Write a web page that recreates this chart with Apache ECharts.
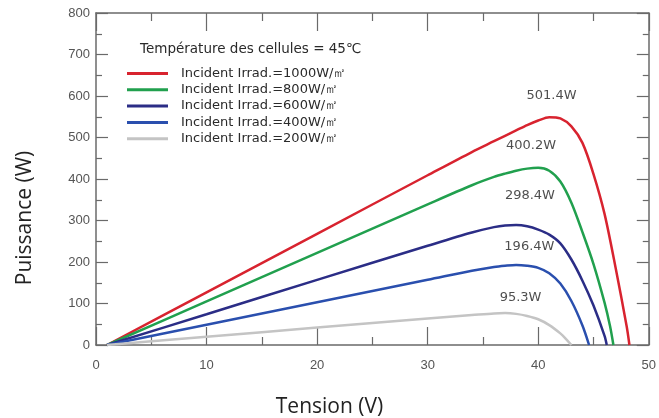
<!DOCTYPE html>
<html>
<head>
<meta charset="utf-8">
<script src="https://cdn.jsdelivr.net/npm/echarts@6/dist/echarts.min.js"></script>
<style>html,body{margin:0;padding:0;background:#fff;}#c{width:659px;height:418px;}</style>
</head>
<body>
<div id="c"></div>
<script>
// ---- data ----
const seriesNames = [
  'Incident Irrad.=1000W/㎡',
  'Incident Irrad.=800W/㎡',
  'Incident Irrad.=600W/㎡',
  'Incident Irrad.=400W/㎡',
  'Incident Irrad.=200W/㎡'
];
const irr1000 = [[1,0],[10,127],[20,268],[30,409],[34,465],[36,491],[38,517],[39,530],[40,541],[41,549],[42,546],[43,527],[44,487],[45,412],[46,316],[47,186],[48,45],[48.25,0]];
const irr800 = [[1,0],[10,105],[20,222],[30,339],[34,385],[36,405],[37,413],[38,420],[39,425],[40,427],[41,420],[42,394],[43,343],[44,272],[45,195],[46,102],[46.5,45],[46.8,0]];
const irr600 = [[1,0],[10,74],[20,157],[30,239],[34,271],[36,284],[37,288],[38,289],[39,286],[40,278],[41,266],[42,245],[43,206],[44,155],[45,95],[46,22],[46.2,0]];
const irr400 = [[1,0],[10,49],[20,103],[30,157],[34,179],[36,188],[37,191],[38,193],[39,191],[40,186],[41,173],[42,148],[43,106],[44,47],[44.6,0]];
const irr200 = [[1,0],[10,20],[20,42],[30,64],[34,72],[36,76],[37,77],[38,75],[39,70],[40,62],[41,48],[42,28],[42.5,15],[43,0]];
const peakLabels = ['501.4W','400.2W','298.4W','196.4W','95.3W'];
const peakLabelAnchors = [[41.2,600],[39.35,480],[39.25,359],[39.2,236],[38.4,113]];
const xTicks = [0,10,20,30,40,50];
const yTicks = [0,100,200,300,400,500,600,700,800];
const legendTitle = 'Température des cellules = 45℃';
const xTitle = 'Tension (V)';
const yTitle = 'Puissance (W)';
const colors = ['#d8232f','#21a04e','#2b2d86','#2a4fae','#c4c4c4'];
const allData = [irr1000, irr800, irr600, irr400, irr200];

const axisColor = '#6a6a6a';
const tickFont = {color:'#555', fontSize:13, fontFamily:'Liberation Sans Narrow, Liberation Sans, Arial, sans-serif'};
const textFont = 'Open Sans, Noto Sans, sans-serif';
const legFont = 'DejaVu Sans, Verdana, sans-serif';

function xAx(pos, showLabel){
  return {
    type:'value', position:pos, min:xTicks[0], max:xTicks[xTicks.length-1], interval:10,
    axisLine:{show:true, onZero:false, lineStyle:{color:axisColor, width:1.5}},
    axisTick:{show:true, inside:true, length:18, lineStyle:{color:axisColor, width:1.2}},
    minorTick:{show:true, splitNumber:2, length:8, lineStyle:{color:axisColor, width:1.2}},
    axisLabel:Object.assign({show:showLabel, margin:14}, tickFont),
    splitLine:{show:false}
  };
}
function yAx(pos, showLabel){
  return {
    type:'value', position:pos, min:yTicks[0], max:yTicks[yTicks.length-1], interval:100,
    axisLine:{show:true, onZero:false, lineStyle:{color:axisColor, width:1.5}},
    axisTick:{show:true, inside:true, length:12, lineStyle:{color:axisColor, width:1.2}},
    minorTick:{show:true, splitNumber:2, length:6, lineStyle:{color:axisColor, width:1.2}},
    axisLabel:Object.assign({show:showLabel, margin:6}, tickFont),
    splitLine:{show:false}
  };
}

const series = allData.map((d,i)=>({
  name: seriesNames[i], type:'line', data:d, smooth:0.3, showSymbol:false, symbol:'none',
  xAxisIndex:0, yAxisIndex:0,
  lineStyle:{color:colors[i], width:2.5}, itemStyle:{color:colors[i]},
  silent:true, animation:false, z:3
}));
series.push({
  type:'scatter', xAxisIndex:0, yAxisIndex:0, symbolSize:0, silent:true, animation:false,
  data: peakLabelAnchors.map((p,i)=>({value:p, label:{show:true, formatter:peakLabels[i]}})),
  label:{show:true, position:'inside', color:'#222', fontSize:13, fontFamily:legFont},
  z:5
});

const chart = echarts.init(document.getElementById('c'), null, {renderer:'canvas'});
chart.setOption({
  animation:false,
  backgroundColor:'#fff',
  grid:{left:96, right:9, top:13, bottom:73, containLabel:false},
  xAxis:[xAx('bottom', true), xAx('top', false)],
  yAxis:[yAx('left', true), yAx('right', false)],
  title:{text:legendTitle, left:135, top:37, textStyle:{fontSize:13.5, fontWeight:'normal', color:'#2a2a2a', fontFamily:legFont}},
  legend:{
    orient:'vertical', left:122, top:62, itemWidth:41, itemHeight:3, itemGap:3.3,
    icon:'rect',
    data: seriesNames.map((n,i)=>({name:n, itemStyle:{color:colors[i]}})),
    textStyle:{fontSize:13, color:'#2a2a2a', fontFamily:legFont, padding:[0,0,0,8]},
    selectedMode:false
  },
  graphic:[
    {type:'text', left:'center', top:397, style:{text:xTitle, fontSize:21, fill:'#222', fontFamily:textFont}},
    {type:'text', x:25, y:218, rotation:Math.PI/2, style:{text:yTitle, fontSize:21, fill:'#222', fontFamily:textFont, textAlign:'center', textVerticalAlign:'middle'}}
  ],
  series:series
});
</script>
</body>
</html>
